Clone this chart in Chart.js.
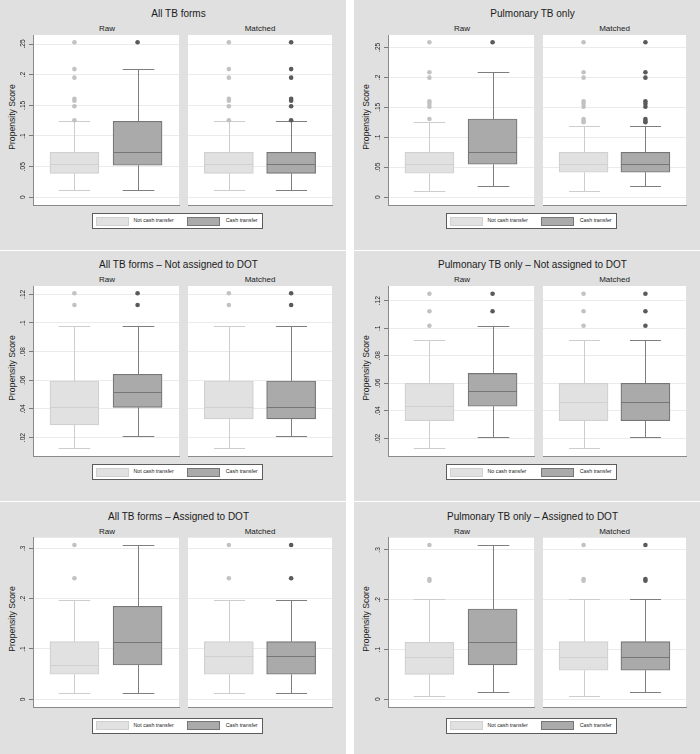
<!DOCTYPE html>
<html>
<head>
<meta charset="utf-8">
<script src="https://cdn.jsdelivr.net/npm/chart.js@4.4.1/dist/chart.umd.min.js"></script>
<style>
html,body{margin:0;padding:0;background:#fff;}
body{width:700px;height:754px;position:relative;overflow:hidden;font-family:"Liberation Sans",Arial,Helvetica,sans-serif;color:#1b1b1b;}
.panel{position:absolute;background:#e0e0e0;}
.panel canvas{position:absolute;}
.t{position:absolute;white-space:nowrap;line-height:1;transform:translate(-50%,-50%);}
.lt{position:absolute;white-space:nowrap;line-height:1;transform:translate(0,-50%);}
.legbox{position:absolute;background:#fff;border:1px solid #5c5c5c;box-sizing:border-box;}
.sw{position:absolute;box-sizing:border-box;}
</style>
</head>
<body>
<script>
// ---------------- DATA ----------------
// Box statistics: [lower whisker, Q1, median, Q3, upper whisker]
const panelTitles = ['All TB forms', 'Pulmonary TB only',
  'All TB forms \u2013 Not assigned to DOT', 'Pulmonary TB only \u2013 Not assigned to DOT',
  'All TB forms \u2013 Assigned to DOT', 'Pulmonary TB only \u2013 Assigned to DOT'];
const subplotLabels = ['Raw', 'Matched'];
const yTitle = 'Propensity Score';
const legendStd = ['Not cash transfer', 'Cash transfer'];
const legendAlt = ['No cash transfer', 'Cash transfer'];

const ticksP1 = [0, 0.05, 0.1, 0.15, 0.2, 0.25];
const ticksP2 = [0, 0.05, 0.1, 0.15, 0.2, 0.25];
const ticksP3 = [0.02, 0.04, 0.06, 0.08, 0.1, 0.12];
const ticksP4 = [0.02, 0.04, 0.06, 0.08, 0.1, 0.12];
const ticksP5 = [0, 0.1, 0.2, 0.3];
const ticksP6 = [0, 0.1, 0.2, 0.3];

const yLimP1 = [-0.0134, 0.2647];
const yLimP2 = [-0.0137, 0.2705];
const yLimP3 = [0.0068, 0.1258];
const yLimP4 = [0.0068, 0.1307];
const yLimP5 = [-0.0167, 0.3211];
const yLimP6 = [-0.0169, 0.3246];

// Panel 1: All TB forms
const p1RawNo = [0.0114, 0.0391, 0.0543, 0.0734, 0.1239];
const p1RawNoOut = [0.2528, 0.2091, 0.1951, 0.1608, 0.1575, 0.1484, 0.1256];
const p1RawCash = [0.0114, 0.0522, 0.0734, 0.1239, 0.2091];
const p1RawCashOut = [0.2528];
const p1MatNo = [0.0114, 0.0391, 0.0543, 0.0734, 0.1239];
const p1MatNoOut = [0.2528, 0.2091, 0.1951, 0.1608, 0.1575, 0.1484, 0.1256];
const p1MatCash = [0.0114, 0.0391, 0.0543, 0.0734, 0.1239];
const p1MatCashOut = [0.2528, 0.2091, 0.1951, 0.1608, 0.1575, 0.1484, 0.1256];

// Panel 2: Pulmonary TB only
const p2RawNo = [0.0100, 0.0400, 0.0555, 0.0750, 0.1250];
const p2RawNoOut = [0.2583, 0.2083, 0.1994, 0.1600, 0.1560, 0.1510, 0.1305];
const p2RawCash = [0.0183, 0.0550, 0.0750, 0.1305, 0.2083];
const p2RawCashOut = [0.2583];
const p2MatNo = [0.0100, 0.0417, 0.0555, 0.0750, 0.1194];
const p2MatNoOut = [0.2583, 0.2083, 0.1994, 0.1600, 0.1560, 0.1510, 0.1305, 0.1270, 0.1250];
const p2MatCash = [0.0183, 0.0417, 0.0555, 0.0750, 0.1194];
const p2MatCashOut = [0.2583, 0.2083, 0.1994, 0.1600, 0.1560, 0.1510, 0.1305, 0.1270, 0.1250];

// Panel 3: All TB forms - Not assigned to DOT
const p3RawNo = [0.0125, 0.0288, 0.0411, 0.0595, 0.0977];
const p3RawNoOut = [0.1207, 0.1125];
const p3RawCash = [0.0209, 0.0411, 0.0516, 0.0642, 0.0977];
const p3RawCashOut = [0.1207, 0.1125];
const p3MatNo = [0.0125, 0.0330, 0.0411, 0.0595, 0.0977];
const p3MatNoOut = [0.1207, 0.1125];
const p3MatCash = [0.0209, 0.0330, 0.0411, 0.0595, 0.0977];
const p3MatCashOut = [0.1207, 0.1125];

// Panel 4: Pulmonary TB only - Not assigned to DOT
const p4RawNo = [0.0127, 0.0328, 0.0433, 0.0600, 0.0912];
const p4RawNoOut = [0.1251, 0.1123, 0.1018];
const p4RawCash = [0.0209, 0.0433, 0.0542, 0.0672, 0.1018];
const p4RawCashOut = [0.1251, 0.1123];
const p4MatNo = [0.0127, 0.0328, 0.0462, 0.0600, 0.0912];
const p4MatNoOut = [0.1251, 0.1123, 0.1018];
const p4MatCash = [0.0209, 0.0328, 0.0462, 0.0600, 0.0912];
const p4MatCashOut = [0.1251, 0.1123, 0.1018];

// Panel 5: All TB forms - Assigned to DOT
const p5RawNo = [0.0119, 0.0497, 0.0681, 0.1145, 0.1973];
const p5RawNoOut = [0.3066, 0.2404];
const p5RawCash = [0.0119, 0.0681, 0.1145, 0.1848, 0.3066];
const p5RawCashOut = [];
const p5MatNo = [0.0119, 0.0497, 0.0854, 0.1145, 0.1973];
const p5MatNoOut = [0.3066, 0.2404];
const p5MatCash = [0.0119, 0.0497, 0.0854, 0.1145, 0.1973];
const p5MatCashOut = [0.3066, 0.2404];

// Panel 6: Pulmonary TB only - Assigned to DOT
const p6RawNo = [0.0073, 0.0502, 0.0844, 0.1145, 0.2009];
const p6RawNoOut = [0.3100, 0.2417, 0.2383];
const p6RawCash = [0.0147, 0.0689, 0.1145, 0.1814, 0.3100];
const p6RawCashOut = [];
const p6MatNo = [0.0073, 0.0583, 0.0844, 0.1157, 0.2009];
const p6MatNoOut = [0.3100, 0.2417, 0.2383];
const p6MatCash = [0.0147, 0.0583, 0.0844, 0.1157, 0.2009];
const p6MatCashOut = [0.3100, 0.2417, 0.2383];

// ---------------- STYLE / LAYOUT ----------------
const NC = {fill:'#e1e1e1', edge:'#d0d0d0', whisk:'#cdcdcd', pt:'#c2c2c2'};
const CA = {fill:'#aaaaaa', edge:'#767676', whisk:'#7e7e7e', pt:'#5a5a5a'};
const AXIS = '#8a8a8a';
const GRID = '#ebebeb';
const CAP = 0.25;        // half cap width in x-units
const BOX_W = 49;        // box width in px
const X_LIM = [0.344, 2.656];

const COLS = [
  {x:0,   raw:[33,181], mat:[186,334], labelX:23.5},
  {x:354, raw:[34,182], mat:[187,334], labelX:24.5}
];
const ROWS = [
  {y:0,   h:250, top:35,   bot:205.5, titleY:14, subY:29,   legTop:213.3, legBot:229.5},
  {y:251, h:250, top:35,   bot:205.5, titleY:14, subY:28.8, legTop:213.3, legBot:229.5},
  {y:502, h:252, top:35.7, bot:205.7, titleY:14.5, subY:29.7, legTop:215.5, legBot:231.5}
];

const panels = [
  {title:panelTitles[0], ticks:ticksP1, lim:yLimP1, legend:legendStd,
   raw:[p1RawNo,p1RawCash], rawOut:[p1RawNoOut,p1RawCashOut], mat:[p1MatNo,p1MatCash], matOut:[p1MatNoOut,p1MatCashOut]},
  {title:panelTitles[1], ticks:ticksP2, lim:yLimP2, legend:legendStd,
   raw:[p2RawNo,p2RawCash], rawOut:[p2RawNoOut,p2RawCashOut], mat:[p2MatNo,p2MatCash], matOut:[p2MatNoOut,p2MatCashOut]},
  {title:panelTitles[2], ticks:ticksP3, lim:yLimP3, legend:legendStd,
   raw:[p3RawNo,p3RawCash], rawOut:[p3RawNoOut,p3RawCashOut], mat:[p3MatNo,p3MatCash], matOut:[p3MatNoOut,p3MatCashOut]},
  {title:panelTitles[3], ticks:ticksP4, lim:yLimP4, legend:legendAlt,
   raw:[p4RawNo,p4RawCash], rawOut:[p4RawNoOut,p4RawCashOut], mat:[p4MatNo,p4MatCash], matOut:[p4MatNoOut,p4MatCashOut]},
  {title:panelTitles[4], ticks:ticksP5, lim:yLimP5, legend:legendStd,
   raw:[p5RawNo,p5RawCash], rawOut:[p5RawNoOut,p5RawCashOut], mat:[p5MatNo,p5MatCash], matOut:[p5MatNoOut,p5MatCashOut]},
  {title:panelTitles[5], ticks:ticksP6, lim:yLimP6, legend:legendStd,
   raw:[p6RawNo,p6RawCash], rawOut:[p6RawNoOut,p6RawCashOut], mat:[p6MatNo,p6MatCash], matOut:[p6MatNoOut,p6MatCashOut]}
];

const fmt = v => v === 0 ? '0' : String(+v.toFixed(4)).replace(/^0\./, '.');

const boxPlugin = {
  id: 'boxParts',
  beforeDraw(chart) {
    const {ctx, chartArea: a} = chart;
    ctx.save();
    ctx.fillStyle = '#ffffff';
    ctx.fillRect(a.left, a.top, a.right - a.left, a.bottom - a.top);
    ctx.restore();
  },
  beforeDatasetsDraw(chart) {
    const {ctx, scales: {x, y}} = chart;
    const ds = chart.data.datasets[0];
    ds.data.forEach((d, i) => {
      const s = ds.stats[i];
      const cx = Math.round(x.getPixelForValue(d.x)) + 0.5;
      const hw = x.getPixelForValue(d.x + CAP) - x.getPixelForValue(d.x);
      const yq1 = y.getPixelForValue(s[1]), yq3 = y.getPixelForValue(s[3]);
      const ylo = Math.round(y.getPixelForValue(s[0])) + 0.5, yhi = Math.round(y.getPixelForValue(s[4])) + 0.5;
      ctx.save();
      ctx.strokeStyle = ds.whiskerColor[i];
      ctx.lineWidth = 1;
      ctx.beginPath();
      ctx.moveTo(cx, yq3); ctx.lineTo(cx, yhi);
      ctx.moveTo(cx, yq1); ctx.lineTo(cx, ylo);
      ctx.moveTo(cx - hw, yhi); ctx.lineTo(cx + hw, yhi);
      ctx.moveTo(cx - hw, ylo); ctx.lineTo(cx + hw, ylo);
      ctx.stroke();
      ctx.restore();
    });
  },
  afterDatasetsDraw(chart) {
    const {ctx, scales: {y}} = chart;
    const ds = chart.data.datasets[0];
    const meta = chart.getDatasetMeta(0);
    meta.data.forEach((bar, i) => {
      const my = Math.round(y.getPixelForValue(ds.stats[i][2])) + 0.5;
      ctx.save();
      ctx.strokeStyle = ds.borderColor[i];
      ctx.lineWidth = 1;
      ctx.beginPath();
      ctx.moveTo(bar.x - bar.width / 2, my);
      ctx.lineTo(bar.x + bar.width / 2, my);
      ctx.stroke();
      ctx.restore();
    });
  },
  afterDraw(chart, args, opts) {
    if (!opts.labels) return;
    const {ctx, scales: {y}} = chart;
    ctx.save();
    ctx.fillStyle = '#222';
    ctx.font = '6.6px "Liberation Sans", Arial, sans-serif';
    ctx.textAlign = 'center';
    ctx.textBaseline = 'middle';
    y.ticks.forEach(t => {
      const py = y.getPixelForValue(t.value);
      ctx.save();
      ctx.translate(opts.labelX, py);
      ctx.rotate(-Math.PI / 2);
      ctx.fillText(fmt(t.value), 0, 0);
      ctx.restore();
    });
    ctx.restore();
  }
};

function addText(parent, str, x, y, size, cls, rot) {
  const d = document.createElement('div');
  d.className = cls || 't';
  d.textContent = str;
  d.style.left = x + 'px';
  d.style.top = y + 'px';
  d.style.fontSize = size + 'px';
  if (rot) d.style.transform = 'translate(-50%,-50%) rotate(-90deg)';
  parent.appendChild(d);
  return d;
}

function makeSub(parent, row, xr, p, stats, outs, isRaw, labelX) {
  const padT = 5, padB = 5, padR = 2;
  const canvasX = isRaw ? 0 : xr[0] - 2;
  const padL = isRaw ? xr[0] - 4 : 2;
  const w = Math.round(xr[1] - canvasX + padR);
  const canvasY = Math.floor(row.top - padT);
  const h = Math.ceil(row.bot + padB - canvasY);
  const cv = document.createElement('canvas');
  cv.width = w; cv.height = h;
  cv.style.left = canvasX + 'px'; cv.style.top = canvasY + 'px';
  cv.style.width = w + 'px'; cv.style.height = h + 'px';
  parent.appendChild(cv);
  const realPadR = w - (xr[1] - canvasX);
  const realPadT = row.top - canvasY;
  const realPadB = h - (row.bot - canvasY);
  new Chart(cv, {
    type: 'bar',
    data: {
      datasets: [
        {
          type: 'bar',
          data: [{x: 1, y: [stats[0][1], stats[0][3]]}, {x: 2, y: [stats[1][1], stats[1][3]]}],
          stats: stats,
          backgroundColor: [NC.fill, CA.fill],
          borderColor: [NC.edge, CA.edge],
          whiskerColor: [NC.whisk, CA.whisk],
          borderWidth: 1.2,
          borderSkipped: false,
          barThickness: BOX_W
        },
        {
          type: 'scatter',
          data: outs[0].map(v => ({x: 1, y: v})),
          pointRadius: 2.3, pointBorderWidth: 0,
          pointBackgroundColor: NC.pt, backgroundColor: NC.pt
        },
        {
          type: 'scatter',
          data: outs[1].map(v => ({x: 2, y: v})),
          pointRadius: 2.3, pointBorderWidth: 0,
          pointBackgroundColor: CA.pt, backgroundColor: CA.pt
        }
      ]
    },
    options: {
      responsive: false, animation: false, devicePixelRatio: 1, events: [],
      layout: {padding: {left: padL, right: realPadR, top: realPadT, bottom: realPadB}},
      plugins: {
        legend: {display: false}, tooltip: {enabled: false},
        boxParts: {labels: isRaw, labelX: labelX}
      },
      scales: {
        x: {
          type: 'linear', min: X_LIM[0], max: X_LIM[1], offset: false,
          ticks: {display: false},
          grid: {display: false, drawTicks: false, offset: false},
          border: {display: true, color: AXIS, width: 1},
          afterBuildTicks: s => { s.ticks = [{value: 1}, {value: 2}]; }
        },
        y: {
          type: 'linear', min: p.lim[0], max: p.lim[1],
          ticks: {display: false},
          grid: {color: GRID, lineWidth: 1, drawTicks: isRaw, tickLength: 4, tickColor: '#7a7a7a'},
          border: {display: isRaw, color: AXIS, width: 1},
          afterBuildTicks: s => { s.ticks = p.ticks.map(v => ({value: v})); }
        }
      }
    },
    plugins: [boxPlugin]
  });
}

panels.forEach((p, idx) => {
  const col = COLS[idx % 2], row = ROWS[Math.floor(idx / 2)];
  const el = document.createElement('div');
  el.className = 'panel';
  el.style.left = col.x + 'px'; el.style.top = row.y + 'px';
  el.style.width = '346px'; el.style.height = row.h + 'px';
  document.body.appendChild(el);

  addText(el, p.title, 178.5, row.titleY, 10);
  addText(el, subplotLabels[0], (col.raw[0] + col.raw[1]) / 2, row.subY, 8);
  addText(el, subplotLabels[1], (col.mat[0] + col.mat[1]) / 2, row.subY, 8);
  addText(el, yTitle, 12, (row.top + row.bot) / 2 - 3.5, 8.6, 't', true);

  makeSub(el, row, col.raw, p, p.raw, p.rawOut, true, col.labelX);
  makeSub(el, row, col.mat, p, p.mat, p.matOut, false, 0);

  // legend
  const lb = document.createElement('div');
  lb.className = 'legbox';
  lb.style.left = '92px'; lb.style.top = row.legTop + 'px';
  lb.style.width = '171px'; lb.style.height = (row.legBot - row.legTop) + 'px';
  el.appendChild(lb);
  const cy = (row.legTop + row.legBot) / 2;
  [[96, NC, 133.5], [187, CA, 225.8]].forEach(([sx, c, tx], k) => {
    const sw = document.createElement('div');
    sw.className = 'sw';
    sw.style.left = sx + 'px'; sw.style.top = (cy - 4.5) + 'px';
    sw.style.width = '33px'; sw.style.height = '9px';
    sw.style.background = c.fill; sw.style.border = '1px solid ' + c.edge;
    el.appendChild(sw);
    addText(el, p.legend[k], tx, cy, 5.3, 'lt');
  });
});
</script>
</body>
</html>
